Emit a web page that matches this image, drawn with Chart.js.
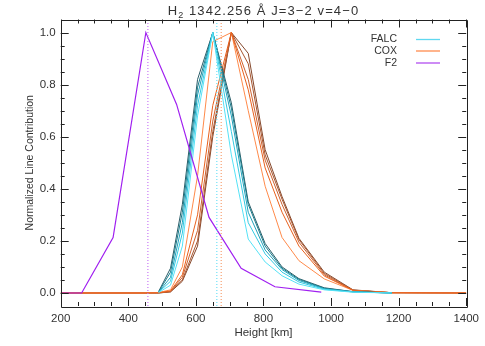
<!DOCTYPE html>
<html><head><meta charset="utf-8">
<script src="https://cdn.jsdelivr.net/npm/chart.js@4.4.0/dist/chart.umd.min.js"></script>
<style>html,body{margin:0;padding:0;background:#fff;} canvas{display:block;}</style>
</head><body>
<canvas id="c" width="485" height="346"></canvas>
<script>
// ---- text ----
const titleSpecies = 'H';
const titleSub = '2';
const titleRest = ' 1342.256 Å J=3−2 v=4−0';
const xTitle = 'Height [km]';
const yTitle = 'Normalized Line Contribution';
const legendNames = ['FALC', 'COX', 'F2'];

// ---- ticks ----
const xTicks = [200, 400, 600, 800, 1000, 1200, 1400];
const yTicks = [0.0, 0.2, 0.4, 0.6, 0.8, 1.0];

// ---- FALC model (height grid in km) ----
const heightsFALC = [490, 525, 560, 605, 650, 705, 755, 805, 855, 905, 980, 1065, 1180];
const falc1 = [0.002, 0.030, 0.18, 0.68, 1.0, 0.53, 0.207, 0.119, 0.066, 0.034, 0.012, 0.003, 0];
const falc2 = [0.003, 0.045, 0.23, 0.72, 1.0, 0.62, 0.270, 0.150, 0.080, 0.042, 0.014, 0.004, 0];
const falc3 = [0.004, 0.060, 0.27, 0.76, 1.0, 0.68, 0.310, 0.165, 0.090, 0.048, 0.016, 0.004, 0];
const falc4 = [0.005, 0.080, 0.31, 0.79, 1.0, 0.71, 0.340, 0.180, 0.095, 0.052, 0.018, 0.005, 0];
const falc5 = [0.006, 0.095, 0.34, 0.82, 1.0, 0.73, 0.350, 0.190, 0.100, 0.055, 0.020, 0.005, 0];

// ---- COX model ----
const heightsCOX = [200, 450, 490, 525, 560, 605, 650, 705, 755, 805, 855, 905, 980, 1065, 1180, 1400];
const cox1 = [0, 0, 0.002, 0.012, 0.10, 0.45, 0.965, 1.0, 0.70, 0.41, 0.213, 0.124, 0.054, 0.010, 0.001, 0];
const cox2 = [0, 0, 0.001, 0.008, 0.07, 0.30, 0.72, 1.0, 0.78, 0.48, 0.310, 0.180, 0.065, 0.010, 0.001, 0];
const cox3 = [0, 0, 0.001, 0.006, 0.06, 0.24, 0.66, 1.0, 0.82, 0.51, 0.340, 0.195, 0.070, 0.010, 0.001, 0];
const cox4 = [0, 0, 0, 0.005, 0.05, 0.20, 0.62, 1.0, 0.88, 0.53, 0.360, 0.205, 0.075, 0.011, 0.001, 0];
const cox5 = [0, 0, 0, 0.004, 0.045, 0.18, 0.60, 1.0, 0.92, 0.55, 0.370, 0.210, 0.080, 0.012, 0.001, 0];

// ---- F2 model ----
const heightsF2 = [200, 262, 355, 452, 543, 639, 734, 834, 971];
const f2Values = [0, 0, 0.213, 1.0, 0.724, 0.29, 0.095, 0.024, 0.003];

// ---- mean formation heights (dotted markers) ----
const meanHeights = [662, 675, 458]; // FALC, COX, F2

// ---- styles ----
const falcColors = ['#55e2f6', '#33c9e2', '#20a2ba', '#187c8c', '#2b5d68'];
const coxColors = ['#ff8a4a', '#e8601c', '#cc6230', '#a8552e', '#85482c'];
const f2Color = '#a020f0';
const legendColors = ['#5fd8f0', '#ffb48c', '#b24ef0'];
const dotColors = ['#6fe0f6', '#f7a070', '#c878f6'];
const FONT = "'Liberation Sans', Arial, sans-serif";

function pts(xs, ys) { return xs.map((x, i) => ({x: x, y: ys[i]})); }
function lineDs(xs, ys, color, order, width) {
  return {data: pts(xs, ys), borderColor: color, borderWidth: width, showLine: true,
          pointRadius: 0, fill: false, tension: 0, order: order};
}

const datasets = [];
meanHeights.forEach((h, i) => {
  datasets.push({data: [{x: h, y: -0.05}, {x: h, y: 1.05}], borderColor: dotColors[i], borderWidth: 1.2,
    borderDash: [1, 2], showLine: true, pointRadius: 0, fill: false, order: 0});
});
datasets.push(lineDs(heightsF2, f2Values, f2Color, 1, 1.2));
[falc1, falc2, falc3, falc4, falc5].forEach((v, i) => datasets.push(lineDs(heightsFALC, v, falcColors[i], 2, 1.0)));
const coxOrder = [cox2, cox1, cox3, cox4, cox5];
const coxOrderColors = [coxColors[1], coxColors[0], coxColors[2], coxColors[3], coxColors[4]];
coxOrder.forEach((v, i) => datasets.push(lineDs(heightsCOX, v, coxOrderColors[i], 3, 1.0)));

const framePlugin = {
  id: 'frame',
  afterDatasetsDraw(chart) {
    const ctx = chart.ctx, a = chart.chartArea, xs = chart.scales.x, ys = chart.scales.y;
    ctx.save();
    ctx.strokeStyle = '#222';
    ctx.lineWidth = 1;
    ctx.beginPath();
    ctx.rect(Math.round(a.left) + 0.5, Math.round(a.top) + 0.5, Math.round(a.right - a.left), Math.round(a.bottom - a.top));
    ctx.stroke();
    ctx.beginPath();
    for (let v = xs.min; v <= xs.max + 1e-6; v += 50) {
      const px = Math.round(xs.getPixelForValue(v)) + 0.5;
      const L = (v % 200 === 0) ? 8 : 4;
      ctx.moveTo(px, a.bottom); ctx.lineTo(px, a.bottom - L);
      ctx.moveTo(px, a.top); ctx.lineTo(px, a.top + L);
    }
    for (let k = 0; k <= 20; k++) {
      const v = k * 0.05;
      const py = Math.round(ys.getPixelForValue(v)) + 0.5;
      const L = (k % 4 === 0) ? 8 : 4;
      ctx.moveTo(a.left, py); ctx.lineTo(a.left + L, py);
      ctx.moveTo(a.right, py); ctx.lineTo(a.right - L, py);
    }
    ctx.stroke();

    // title
    ctx.fillStyle = '#333';
    ctx.textBaseline = 'alphabetic';
    ctx.textAlign = 'left';
    ctx.letterSpacing = '1.1px';
    ctx.font = '13px ' + FONT;
    const wH = ctx.measureText(titleSpecies).width;
    ctx.font = '9px ' + FONT;
    const wS = ctx.measureText(titleSub).width;
    ctx.font = '13px ' + FONT;
    const wR = ctx.measureText(titleRest).width;
    const cx = (a.left + a.right) / 2;
    let x0 = cx - (wH + wS + wR) / 2;
    const base = 15;
    ctx.fillText(titleSpecies, x0, base);
    ctx.font = '9px ' + FONT;
    ctx.fillText(titleSub, x0 + wH, base + 3);
    ctx.font = '13px ' + FONT;
    ctx.fillText(titleRest, x0 + wH + wS, base);

    // legend
    ctx.letterSpacing = '0px';
    ctx.font = '10.5px ' + FONT;
    ctx.textAlign = 'right';
    ctx.textBaseline = 'middle';
    const ly = [39.5, 51, 63];
    legendNames.forEach((n, i) => {
      ctx.fillStyle = '#333';
      ctx.fillText(n, 397, ly[i]);
      ctx.strokeStyle = legendColors[i];
      ctx.lineWidth = i === 1 ? 2 : 1.3;
      ctx.beginPath();
      ctx.moveTo(416, ly[i]); ctx.lineTo(440, ly[i]);
      ctx.stroke();
    });
    ctx.restore();
  }
};

new Chart(document.getElementById('c'), {
  type: 'scatter',
  data: {datasets: datasets},
  options: {
    responsive: false, animation: false, devicePixelRatio: 1,
    layout: {padding: {top: 19.5, right: 18, left: 0, bottom: 0}},
    plugins: {legend: {display: false}, tooltip: {enabled: false}},
    scales: {
      x: {
        type: 'linear', min: 200, max: 1400,
        afterBuildTicks: s => { s.ticks = xTicks.map(v => ({value: v})); },
        afterFit: s => { s.height = 40; },
        grid: {display: false, drawTicks: false},
        border: {display: false},
        ticks: {color: '#333', font: {family: FONT, size: 11.5}, padding: 6, maxRotation: 0, autoSkip: false,
                callback: v => String(v)},
        title: {display: true, text: xTitle, color: '#333', font: {family: FONT, size: 11.5}, padding: {top: 0, bottom: 6}}
      },
      y: {
        type: 'linear', min: -0.05, max: 1.05,
        afterBuildTicks: s => { s.ticks = yTicks.map(v => ({value: v})); },
        afterFit: s => { s.width = 60.7; },
        grid: {display: false, drawTicks: false},
        border: {display: false},
        ticks: {color: '#333', font: {family: FONT, size: 11.5}, padding: 5, callback: v => v.toFixed(1)},
        title: {display: true, text: yTitle, color: '#333', font: {family: FONT, size: 10.5}, padding: {top: 24, bottom: 0}}
      }
    }
  },
  plugins: [framePlugin]
});
</script>
</body></html>
